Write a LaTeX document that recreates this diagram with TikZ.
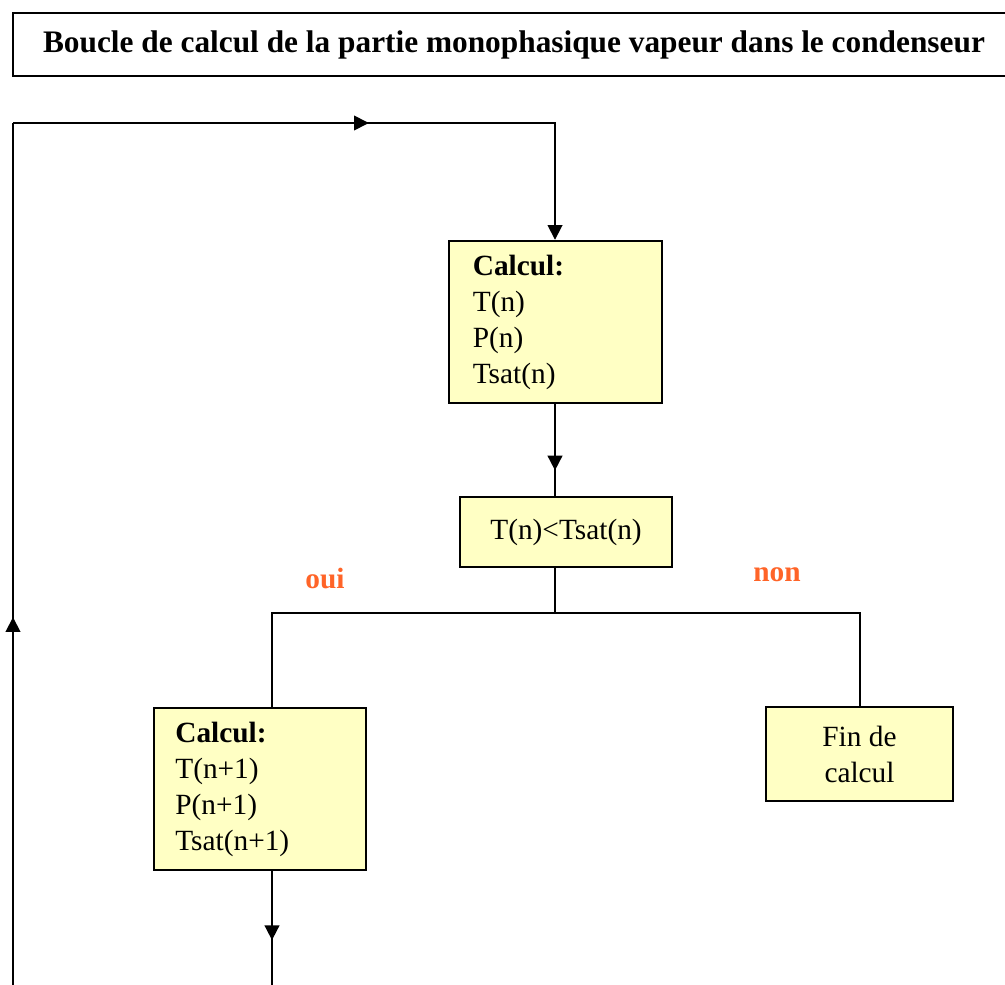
\documentclass[tikz,border=0pt]{standalone}
\usepackage{fontspec}
\setmainfont{Liberation Serif}
\usetikzlibrary{arrows.meta,decorations.markings}
\definecolor{boxfill}{RGB}{255,255,196}
\definecolor{ansorange}{RGB}{255,100,40}
\begin{document}
\begin{tikzpicture}[x=0.75pt,y=-0.75pt,
  every node/.style={font=\fontsize{22}{27}\selectfont},
  stepbox/.style={draw=black,line width=1.3pt,fill=boxfill,inner ysep=0pt},
  conn/.style={line width=1.3pt,draw=black},
  tip/.style={-{Triangle[length=11pt,width=11pt]}},
  midtip/.style={postaction={decorate},decoration={markings,mark=at position #1 with {\arrow{Triangle[length=11pt,width=11pt]}}}},
  answer/.style={text=ansorange,font=\fontsize{22}{24}\selectfont\bfseries}]
\useasboundingbox (0,0) rectangle (1005,984);
\node[draw=black,line width=1.3pt,minimum width=751.5pt,minimum height=47pt,inner sep=0pt,
  font=\fontsize{23.5}{26}\selectfont\bfseries] (title) at (514,44.5)
  {Boucle de calcul de la partie monophasique vapeur dans le condenseur};
\node[stepbox,minimum width=160pt,minimum height=122pt,text width=124pt,inner xsep=18pt,align=left] (calc1) at (555.5,322)
  {\textbf{Calcul:}\\T(n)\\P(n)\\Tsat(n)};
\node[stepbox,minimum width=159pt,minimum height=52.5pt,inner xsep=0pt] (test) at (566,532) {T(n)<Tsat(n)};
\node[stepbox,minimum width=159pt,minimum height=122pt,text width=127pt,inner xsep=16pt,align=left] (calc2) at (260,789)
  {\textbf{Calcul:}\\T(n+1)\\P(n+1)\\Tsat(n+1)};
\node[stepbox,minimum width=140pt,minimum height=70pt,align=center,inner xsep=0pt] (fin) at (859.5,754)
  {Fin de\\calcul};
\node[answer] (oui) at (325,578) {oui};
\node[answer] (non) at (777,575) {non};
% coordinates
\coordinate (topR) at (555,123);
\coordinate (topL) at (13,123);
\coordinate (split) at (555,613);
\coordinate (splitL) at (272,613);
\coordinate (splitR) at (860,613);
\coordinate (c2out) at (272,870);
\coordinate (botM) at (272,990);
\coordinate (botL) at (13,990);
% connectors
\draw[conn,tip,midtip=0.54] (topL) -- (topR) -- (calc1.north -| topR);
\draw[conn,midtip=0.72] (calc1.south -| topR) -- (test.north -| topR);
\draw[conn] (test.south -| split) -- (split);
\draw[conn] (splitL |- calc2.north) -- (splitL) -- (splitR) -- (splitR |- fin.north);
\draw[conn,midtip=0.58] (calc2.south -| c2out) -- (botM);
\draw[conn,midtip=0.43] (botL) -- (topL);
\end{tikzpicture}
\end{document}
